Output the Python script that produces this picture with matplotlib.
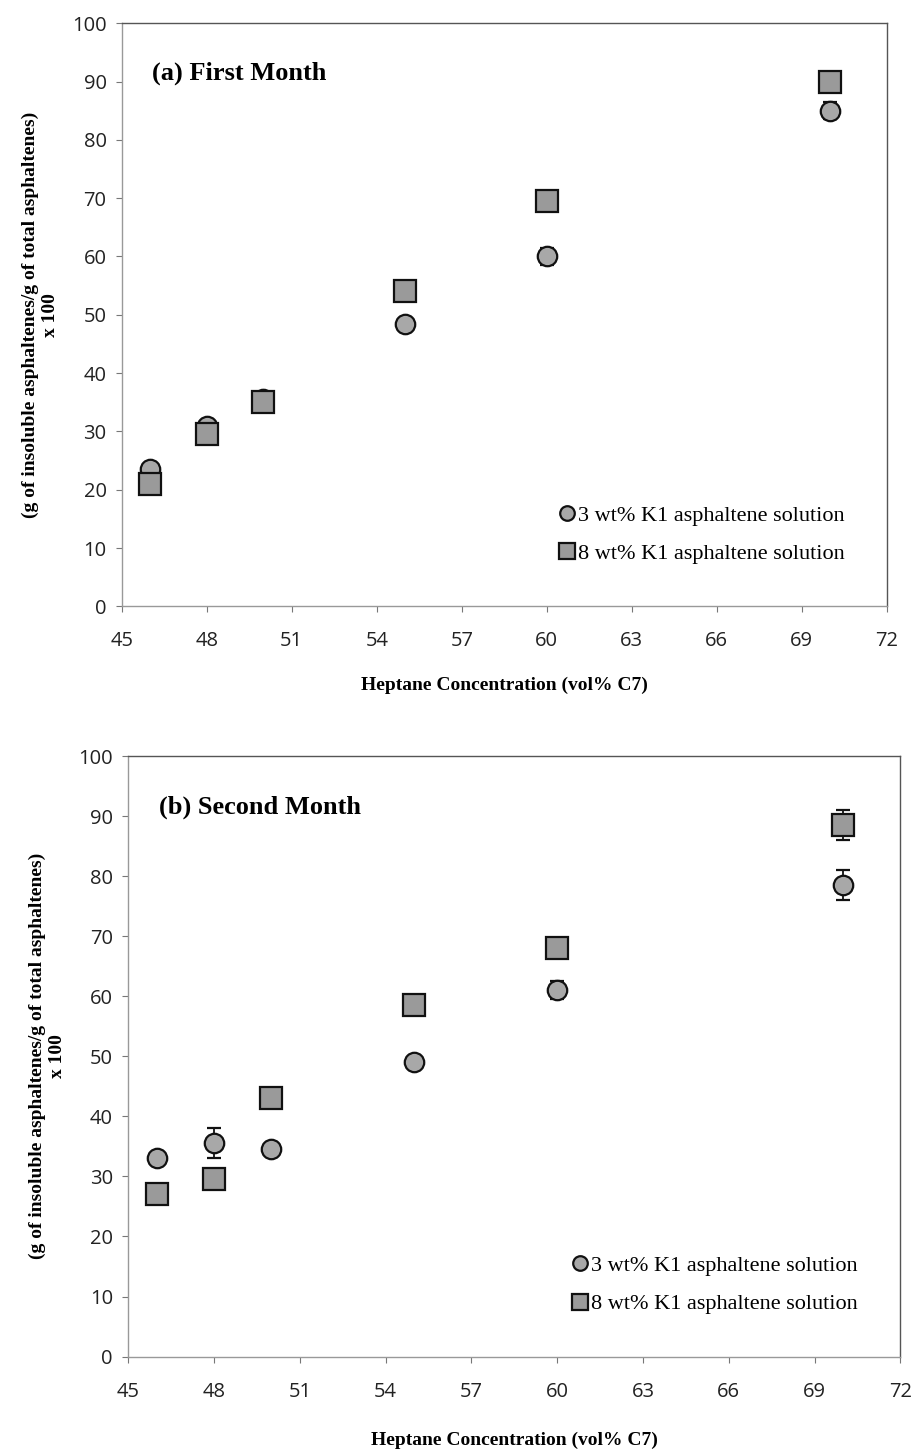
import matplotlib
matplotlib.use("Agg")
import matplotlib.pyplot as plt
from matplotlib.lines import Line2D

# heptane concentration (vol% C7)
heptane = [46, 48, 50, 55, 60, 70]

# first month
m1_3wt = [23.5, 31.0, 35.5, 48.5, 60.0, 85.0]
m1_3wt_err = [0.5, 0.8, 0.5, 0.5, 1.5, 1.5]
m1_8wt = [21.0, 29.5, 35.0, 54.0, 69.5, 90.0]
m1_8wt_err = [0.5, 0.5, 0.5, 0.5, 0.5, 0.5]

# second month
m2_3wt = [33.0, 35.5, 34.5, 49.0, 61.0, 78.5]
m2_3wt_err = [0.5, 2.5, 0.5, 0.5, 1.5, 2.5]
m2_8wt = [27.0, 29.5, 43.0, 58.5, 68.0, 88.5]
m2_8wt_err = [0.5, 0.5, 0.5, 0.5, 1.0, 2.5]

xticks = [45, 48, 51, 54, 57, 60, 63, 66, 69, 72]
yticks = [0, 10, 20, 30, 40, 50, 60, 70, 80, 90, 100]

serif = "Liberation Serif"
tickfont = "Open Sans"
ylabel = "(g of insoluble asphaltenes/g of total asphaltenes)\nx 100"
xlabel = "Heptane Concentration (vol% C7)"
labels = ["3 wt% K1 asphaltene solution", "8 wt% K1 asphaltene solution"]

fig = plt.figure(figsize=(9.16, 14.54), dpi=100)
ax1 = fig.add_axes([0.133, 0.583, 0.835, 0.401])
ax2 = fig.add_axes([0.140, 0.067, 0.843, 0.413])

circ = dict(marker="o", ms=14, mfc="#a8a8a8", mec="#111111", mew=1.6)
sq = dict(marker="s", ms=15.5, mfc="#9a9a9a", mec="#111111", mew=1.6)


def draw_panel(ax, y3, e3, y8, e8, title):
    ax.errorbar(heptane, y3, yerr=e3, ls="none", ecolor="#111111", elinewidth=1.3,
                capsize=5, capthick=1.6, zorder=3, **circ)
    ax.errorbar(heptane, y8, yerr=e8, ls="none", ecolor="#111111", elinewidth=1.3,
                capsize=5, capthick=1.6, zorder=3, **sq)
    ax.set_xlim(45, 72)
    ax.set_ylim(0, 100)
    ax.set_xticks(xticks)
    ax.set_yticks(yticks)
    for lab in ax.get_xticklabels() + ax.get_yticklabels():
        lab.set_fontfamily(tickfont)
        lab.set_fontsize(14.5)
    ax.tick_params(direction="out", length=4, width=0.8, colors="#777777",
                   labelcolor="#222222")
    ax.tick_params(axis="x", pad=14)
    ax.tick_params(axis="y", pad=7)
    for s in ax.spines.values():
        s.set_color("#555555")
        s.set_linewidth(1.0)
    ax.spines["left"].set_color("#999999")
    ax.spines["bottom"].set_color("#999999")
    ax.text(0.04, 0.915, title, transform=ax.transAxes, fontfamily=serif,
            fontweight="bold", fontsize=19, va="center", ha="left")
    ax.set_ylabel(ylabel, fontfamily=serif, fontweight="bold", fontsize=14,
                  linespacing=1.25, labelpad=9)
    handles = [Line2D([], [], ls="none", **dict(circ, ms=10.5)),
               Line2D([], [], ls="none", **dict(sq, ms=11.5))]
    ax.legend(handles, labels, loc="lower right", frameon=False, handletextpad=0.05,
              handlelength=0.9, borderaxespad=1.5, prop={"family": serif, "size": 16},
              labelspacing=0.8)


draw_panel(ax1, m1_3wt, m1_3wt_err, m1_8wt, m1_8wt_err, "(a) First Month")
draw_panel(ax2, m2_3wt, m2_3wt_err, m2_8wt, m2_8wt_err, "(b) Second Month")

ax1.set_xlabel(xlabel, fontfamily=serif, fontweight="bold", fontsize=14, labelpad=18)
ax2.set_xlabel(xlabel, fontfamily=serif, fontweight="bold", fontsize=14, labelpad=22)

fig.savefig("out.png", dpi=100)
